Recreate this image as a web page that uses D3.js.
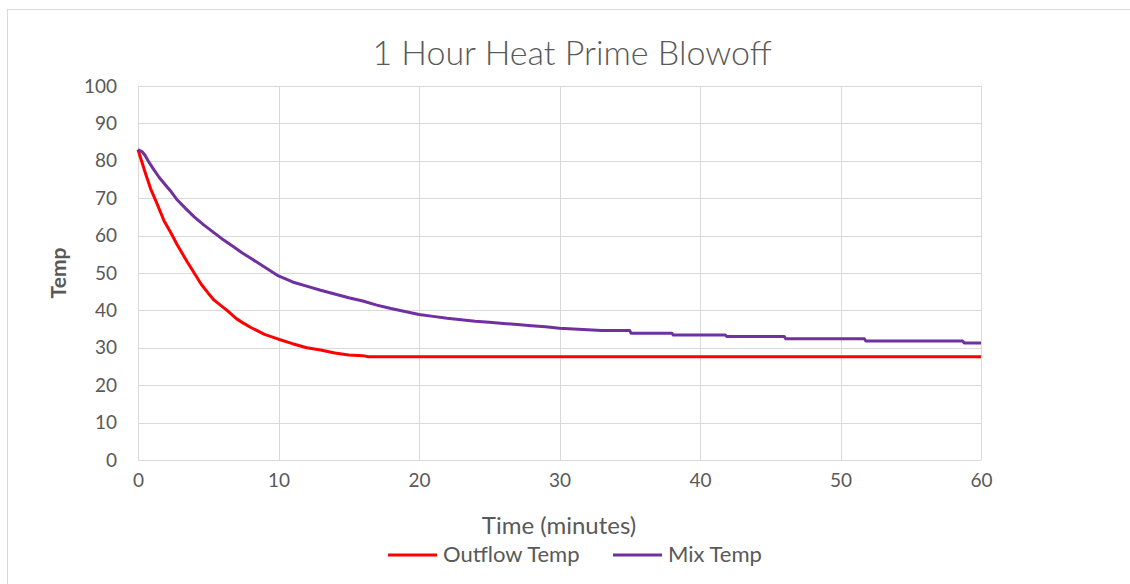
<!DOCTYPE html>
<html>
<head>
<meta charset="utf-8">
<script src="https://cdn.jsdelivr.net/npm/d3@7"></script>
<style>
  body { margin: 0; background: #fff; }
  text { font-family: Lato, "Open Sans", sans-serif; fill: #595959; }
  .grid line { stroke: #d9d9d9; stroke-width: 1; }
</style>
</head>
<body>
<svg width="1130" height="584"></svg>
<script>
// outflow temperature readings (minutes, temp)
var outflowTime = [0, 0.25, 0.5, 0.9, 1.3, 1.85, 2.3, 2.8, 3.5, 4, 4.5, 5, 5.4, 6, 6.5, 7, 7.5, 8, 9, 10, 11, 12, 13, 14, 15, 16, 16.4, 60];
var outflowTemp = [83, 80, 77, 72.5, 69, 64, 61, 57.5, 53, 50, 47, 44.6, 42.8, 41, 39.5, 37.8, 36.6, 35.5, 33.6, 32.3, 31.1, 30, 29.4, 28.6, 28.1, 27.9, 27.6, 27.6];

// mix temperature readings (minutes, temp)
var mixTime = [0, 0.3, 0.5, 0.8, 1.15, 1.5, 1.85, 2.3, 2.8, 3.4, 4, 4.7, 5.4, 6.1, 6.8, 7.4, 8, 9, 10, 11, 12, 13, 14, 15, 16, 17, 18, 19, 20, 21, 22, 23, 24, 25, 26, 27, 28, 29, 30, 31, 32, 33, 35, 35.1, 38, 38.1, 41.8, 41.9, 46, 46.1, 51.7, 51.8, 58.7, 58.8, 60];
var mixTemp = [83, 82.4, 81.5, 79.5, 77.5, 75.6, 74, 72, 69.5, 67.2, 65, 62.8, 60.8, 58.8, 57, 55.4, 54, 51.6, 49.2, 47.6, 46.5, 45.4, 44.4, 43.4, 42.5, 41.4, 40.5, 39.7, 38.9, 38.4, 37.9, 37.5, 37.1, 36.8, 36.5, 36.2, 35.9, 35.6, 35.2, 35, 34.8, 34.6, 34.6, 33.9, 33.9, 33.4, 33.4, 33.0, 33.0, 32.4, 32.4, 31.8, 31.8, 31.3, 31.3];

var xTicks = [0, 10, 20, 30, 40, 50, 60];
var yTicks = [0, 10, 20, 30, 40, 50, 60, 70, 80, 90, 100];

var seriesNames = ['Outflow Temp', 'Mix Temp'];
var seriesColors = ['#ff0000', '#7030a0'];

var svg = d3.select('svg');

// chart frame
svg.append('rect')
    .attr('x', 7.5).attr('y', 9.5)
    .attr('width', 1200).attr('height', 700)
    .attr('fill', '#fff')
    .attr('stroke', '#d9d9d9');

var plot = {l: 138, r: 981, t: 86, b: 460};

var xScale = d3.scaleLinear().domain([0, 60]).range([plot.l, plot.r]);
var yScale = d3.scaleLinear().domain([0, 100]).range([plot.b, plot.t]);

// gridlines
var grid = svg.append('g').attr('class', 'grid');

grid.selectAll('line.h')
    .data(yTicks)
    .enter()
    .append('line')
    .attr('class', 'h')
    .attr('x1', plot.l).attr('x2', plot.r)
    .attr('y1', function(d) { return Math.round(yScale(d)) + 0.5; })
    .attr('y2', function(d) { return Math.round(yScale(d)) + 0.5; });

grid.selectAll('line.v')
    .data(xTicks)
    .enter()
    .append('line')
    .attr('class', 'v')
    .attr('y1', plot.t).attr('y2', plot.b)
    .attr('x1', function(d) { return Math.round(xScale(d)) + 0.5; })
    .attr('x2', function(d) { return Math.round(xScale(d)) + 0.5; });

// axes (labels only, lines come from the grid)
var yAxis = d3.axisLeft(yScale).tickValues(yTicks).tickSize(0).tickPadding(21);
var xAxis = d3.axisBottom(xScale).tickValues(xTicks).tickSize(0).tickPadding(14);

svg.append('g')
    .attr('transform', 'translate(' + plot.l + ',0)')
    .call(yAxis)
    .call(function(g) { g.select('.domain').remove(); })
    .selectAll('text').attr('fill', '#595959').style('font-size', '19px');

svg.append('g')
    .attr('transform', 'translate(0,' + plot.b + ')')
    .call(xAxis)
    .call(function(g) { g.select('.domain').remove(); })
    .selectAll('text').attr('fill', '#595959').style('font-size', '19px');

// lines
var line = d3.line()
    .x(function(d) { return xScale(d[0]); })
    .y(function(d) { return yScale(d[1]); });

var seriesData = [
    d3.zip(outflowTime, outflowTemp),
    d3.zip(mixTime, mixTemp)
];

svg.selectAll('.series')
    .data(seriesData)
    .enter()
    .append('path')
    .attr('class', 'series')
    .attr('fill', 'none')
    .attr('stroke', function(d, i) { return seriesColors[i]; })
    .attr('stroke-width', 3)
    .attr('stroke-linejoin', 'round')
    .attr('d', line);

// titles
svg.append('text')
    .attr('x', 572).attr('y', 65)
    .attr('text-anchor', 'middle')
    .style('font-size', '34px')
    .style('font-weight', 300)
    .text('1 Hour Heat Prime Blowoff');

svg.append('text')
    .attr('transform', 'translate(66,273)rotate(-90)')
    .attr('text-anchor', 'middle')
    .style('font-size', '21px')
    .style('font-weight', 'bold')
    .text('Temp');

svg.append('text')
    .attr('x', 559).attr('y', 534)
    .attr('text-anchor', 'middle')
    .style('font-size', '24px')
    .text('Time (minutes)');

// legend
var legendX = [388, 613];
var legend = svg.selectAll('.legend')
    .data(seriesNames)
    .enter()
    .append('g')
    .attr('class', 'legend')
    .attr('transform', function(d, i) { return 'translate(' + legendX[i] + ',555)'; });

legend.append('line')
    .attr('x1', 0).attr('x2', 49)
    .attr('stroke', function(d, i) { return seriesColors[i]; })
    .attr('stroke-width', 3);

legend.append('text')
    .attr('x', 55).attr('y', 7)
    .style('font-size', '22px')
    .text(function(d) { return d; });
</script>
</body>
</html>
